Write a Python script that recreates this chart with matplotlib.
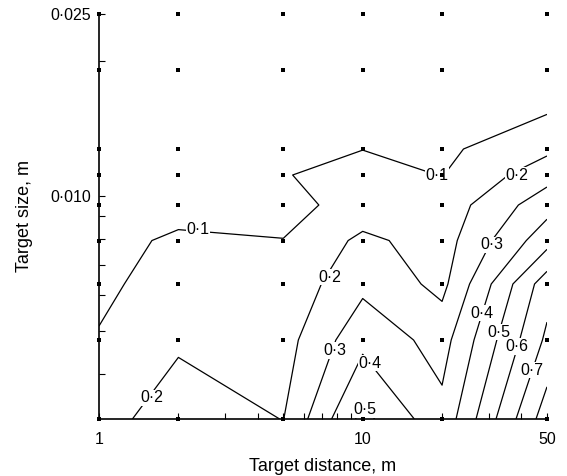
import numpy as np
import matplotlib
matplotlib.use('Agg')
import matplotlib.pyplot as plt

plt.rcParams['font.family'] = ['Liberation Sans', 'DejaVu Sans']
plt.rcParams['xtick.direction'] = 'in'
plt.rcParams['ytick.direction'] = 'in'

# grid of measurement points
distance = np.array([1, 2, 5, 10, 20, 50])            # m
size = np.array([0.003175, 0.0047625, 0.00635, 0.0079375, 0.009525,
                 0.0111125, 0.0127, 0.01905, 0.0254])  # m

# values at each grid point, rows = size (small -> large), cols = distance
z = np.array([
    [0.16, 0.255, 0.198, 0.53, 0.33, 0.855],
    [0.11, 0.1845, 0.16, 0.3715, 0.26, 0.72],
    [0.07, 0.164, 0.131, 0.275, 0.173, 0.6575],
    [0.06, 0.12, 0.102, 0.222, 0.156, 0.46],
    [0.04, 0.055, 0.07, 0.137, 0.14, 0.36],
    [0.03, 0.04, 0.094, 0.145, 0.097, 0.26],
    [0.02, 0.03, 0.06, 0.098, 0.08, 0.178],
    [0.01, 0.02, 0.03, 0.05, 0.03, 0.0],
    [0.0, 0.01, 0.01, 0.02, 0.01, 0.0],
])

levels = [0.1, 0.2, 0.3, 0.4, 0.5, 0.6, 0.7, 0.8]

# where the contour labels sit (distance, size)
label_pos = {
    0.1: [(2.37, 0.00838), (18.8, 0.0111)],
    0.2: [(1.59, 0.00354), (7.52, 0.00658), (38.5, 0.0111)],
    0.3: [(7.86, 0.00452), (30.9, 0.00776)],
    0.4: [(10.66, 0.00423), (28.3, 0.00547)],
    0.5: [(10.2, 0.00333), (32.9, 0.00496)],
    0.6: [(38.5, 0.00460)],
    0.7: [(43.9, 0.00408)],
}

x_major = [1, 10, 50]
x_minor = [2, 3, 4, 5, 6, 7, 8, 9, 20, 30, 40]
y_major = [0.010, size.max()]
y_minor = [0.004, 0.005, 0.006, 0.007, 0.008, 0.009, 0.02]


def dot(v, nd):
    return f'{v:.{nd}f}'.replace('.', '\u00b7')


fig = plt.figure(figsize=(5.67, 4.76), dpi=100)
ax = fig.add_axes([99/567, 57/476, 448/567, 405/476])

# contours are interpolated in log-log space
lx = np.log10(distance)
ly = np.log10(size)
X, Y = np.meshgrid(lx, ly)

cs = ax.contour(X, Y, z, levels=levels, colors='k', linewidths=0.9)

# horizontal labels on a white patch, snapped to the nearest contour vertex
for lev, pts in label_pos.items():
    segs = cs.allsegs[levels.index(lev)]
    verts = np.vstack([s for s in segs if len(s)])
    for a, b in pts:
        p = np.array([np.log10(a), np.log10(b)])
        d = np.hypot((verts[:, 0] - p[0]) / np.ptp(lx), (verts[:, 1] - p[1]) / np.ptp(ly))
        i = d.argmin()
        q = verts[i] if d[i] < 0.01 else p
        ax.text(q[0], q[1], dot(lev, 1), fontsize=11.5, ha='center', va='center',
                zorder=3, bbox=dict(facecolor='white', edgecolor='none', pad=0.6))

ax.scatter(X.ravel(), Y.ravel(), marker='s', s=6.5, c='k', linewidths=0,
           clip_on=False, zorder=4)

ax.set_xlim(lx.min(), lx.max())
ax.set_ylim(ly.min(), ly.max())

ax.set_xticks(np.log10(x_major), [str(v) for v in x_major])
ax.set_xticks(np.log10(x_minor), minor=True)
ax.set_yticks(np.log10(y_major), [dot(v, 3) for v in y_major])
ax.set_yticks(np.log10(y_minor), minor=True)

ax.tick_params(which='both', length=4, width=0.8, labelsize=11.5)
ax.tick_params(axis='x', pad=9)
ax.tick_params(axis='y', pad=6)

for s in ['top', 'right']:
    ax.spines[s].set_visible(False)
for s in ['left', 'bottom']:
    ax.spines[s].set_linewidth(1.2)

ax.set_xlabel('Target distance, m', fontsize=13, labelpad=8)
ax.set_ylabel('Target size, m', fontsize=13, labelpad=12)

plt.savefig('out.png', dpi=100)
